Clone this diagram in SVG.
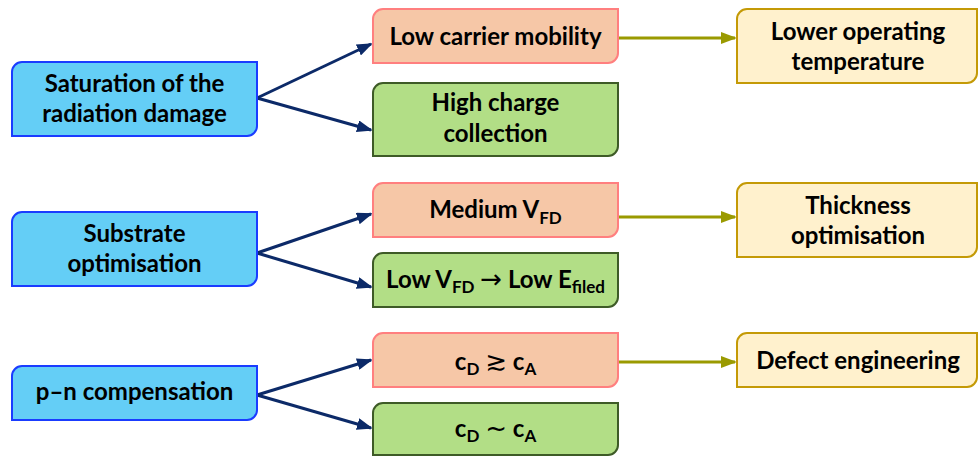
<svg xmlns="http://www.w3.org/2000/svg" width="978" height="456" viewBox="0 0 978 456">
<style>
text{font-family:Lato,"Open Sans","Liberation Sans",sans-serif;font-weight:bold;font-size:24px;fill:#000;text-anchor:middle}
.sub{font-size:17px}
.sym{font-size:26px;font-family:"DejaVu Sans",sans-serif;font-weight:normal}
.blue{fill:#64CEF6;stroke:#1A3CFF;stroke-width:2}
.salmon{fill:#F6C7A7;stroke:#FF7F7F;stroke-width:2}
.green{fill:#B2DE86;stroke:#3E5B27;stroke-width:2}
.yellow{fill:#FFF1CD;stroke:#C49A06;stroke-width:2}
.nav{stroke:#0C2A68;stroke-width:3;fill:none}
.olv{stroke:#9A9A00;stroke-width:3;fill:none}
</style>
<defs>
<marker id="an" markerUnits="userSpaceOnUse" markerWidth="16" markerHeight="12" refX="14" refY="6" orient="auto"><path d="M0,0 L16,6 L0,12 Z" fill="#0C2A68"/></marker>
<marker id="ao" markerUnits="userSpaceOnUse" markerWidth="16" markerHeight="12" refX="14" refY="6" orient="auto"><path d="M0,0 L16,6 L0,12 Z" fill="#9A9A00"/></marker>
</defs>
<rect width="978" height="456" fill="#fff"/>
<g id="connectors">
<line class="nav" x1="257" y1="98" x2="371" y2="44" marker-end="url(#an)"/>
<line class="nav" x1="257" y1="98" x2="371" y2="130" marker-end="url(#an)"/>
<line class="nav" x1="257" y1="253" x2="371" y2="214" marker-end="url(#an)"/>
<line class="nav" x1="257" y1="253" x2="371" y2="287" marker-end="url(#an)"/>
<line class="nav" x1="257" y1="395" x2="371" y2="360" marker-end="url(#an)"/>
<line class="nav" x1="257" y1="395" x2="371" y2="428" marker-end="url(#an)"/>
<line class="olv" x1="619" y1="38" x2="735" y2="38" marker-end="url(#ao)"/>
<line class="olv" x1="619" y1="217" x2="735" y2="217" marker-end="url(#ao)"/>
<line class="olv" x1="619" y1="362" x2="735" y2="362" marker-end="url(#ao)"/>
</g>
<g id="n-saturation">
<path class="blue" d="M22,62 H257 V126 A10,10 0 0 1 247,136 H12 V72 A10,10 0 0 1 22,62 Z"/>
<text x="134.5" y="92">Saturation of the</text>
<text x="134.5" y="122">radiation damage</text>
</g>
<g id="n-substrate">
<path class="blue" d="M22,212 H257 V276 A10,10 0 0 1 247,286 H12 V222 A10,10 0 0 1 22,212 Z"/>
<text x="134.5" y="242">Substrate</text>
<text x="134.5" y="272">optimisation</text>
</g>
<g id="n-pn">
<path class="blue" d="M22,366 H257 V410 A10,10 0 0 1 247,420 H12 V376 A10,10 0 0 1 22,366 Z"/>
<text x="134.5" y="400">p–n compensation</text>
</g>
<g id="n-lowmob">
<path class="salmon" d="M383,9 H618 V53 A10,10 0 0 1 608,63 H373 V19 A10,10 0 0 1 383,9 Z"/>
<text x="495.5" y="45">Low carrier mobility</text>
</g>
<g id="n-highcc">
<path class="green" d="M383,83 H618 V146 A10,10 0 0 1 608,156 H373 V93 A10,10 0 0 1 383,83 Z"/>
<text x="495.5" y="111">High charge</text>
<text x="495.5" y="142">collection</text>
</g>
<g id="n-medvfd">
<path class="salmon" d="M383,183 H618 V227 A10,10 0 0 1 608,237 H373 V193 A10,10 0 0 1 383,183 Z"/>
<text x="495.5" y="218">Medium V<tspan class="sub" dy="6">FD</tspan></text>
</g>
<g id="n-lowvfd">
<path class="green" d="M383,253 H618 V297 A10,10 0 0 1 608,307 H373 V263 A10,10 0 0 1 383,253 Z"/>
<text x="495.5" y="288">Low V<tspan class="sub" dy="5">FD</tspan><tspan dy="-5"> </tspan><tspan class="sym" font-size="22">→</tspan><tspan> Low E</tspan><tspan class="sub" dy="5">filed</tspan></text>
</g>
<g id="n-cdgca">
<path class="salmon" d="M383,333 H618 V377 A10,10 0 0 1 608,387 H373 V343 A10,10 0 0 1 383,333 Z"/>
<text x="495.5" y="370">c<tspan class="sub" dy="5">D</tspan><tspan dy="-5"> </tspan><tspan class="sym" font-size="28">≳</tspan><tspan> c</tspan><tspan class="sub" dy="5">A</tspan></text>
</g>
<g id="n-cdsca">
<path class="green" d="M383,403 H618 V445 A10,10 0 0 1 608,455 H373 V413 A10,10 0 0 1 383,403 Z"/>
<text x="495.5" y="437">c<tspan class="sub" dy="5">D</tspan><tspan dy="-5"> </tspan><tspan class="sym" font-weight="bold" font-size="24">~</tspan><tspan> c</tspan><tspan class="sub" dy="5">A</tspan></text>
</g>
<g id="n-lowertemp">
<path class="yellow" d="M747,9 H977 V73 A10,10 0 0 1 967,83 H737 V19 A10,10 0 0 1 747,9 Z"/>
<text x="858" y="40">Lower operating</text>
<text x="858" y="70">temperature</text>
</g>
<g id="n-thickness">
<path class="yellow" d="M747,183 H977 V247 A10,10 0 0 1 967,257 H737 V193 A10,10 0 0 1 747,183 Z"/>
<text x="858" y="214">Thickness</text>
<text x="858" y="244">optimisation</text>
</g>
<g id="n-defect">
<path class="yellow" d="M747,333 H977 V377 A10,10 0 0 1 967,387 H737 V343 A10,10 0 0 1 747,333 Z"/>
<text x="858" y="369">Defect engineering</text>
</g>
</svg>
